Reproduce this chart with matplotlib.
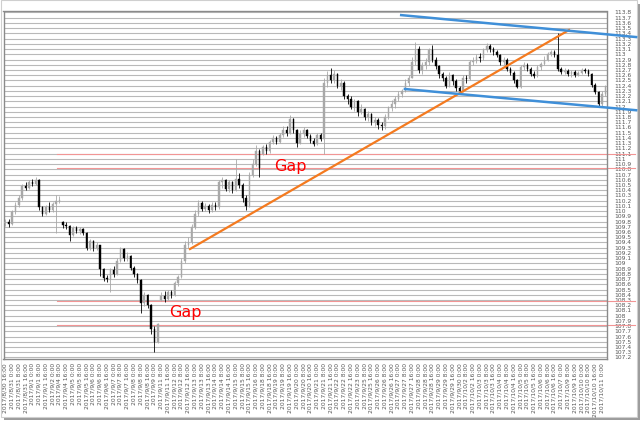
import numpy as np
import matplotlib
matplotlib.use('Agg')
import matplotlib.pyplot as plt
from matplotlib.patches import Rectangle
from datetime import datetime, timedelta

# USD/JPY 4時間足 2017/8/30 16:00 - 2017/10/11
close = [
    109.80, 109.75, 109.98, 110.12, 110.25, 110.48, 110.44, 110.55, 110.52, 110.60,
    110.08, 109.95, 110.08, 110.02, 110.14, 110.20, 110.22, 109.74, 109.72, 109.55,
    109.68, 109.62, 109.66, 109.58, 109.30, 109.42, 109.30, 109.35, 108.90, 108.72,
    108.70, 108.88, 108.80, 109.05, 109.28, 109.10, 109.15, 108.92, 108.80, 108.68,
    108.25, 108.40, 108.20, 107.75, 107.50, 107.84, 108.38, 108.32, 108.45, 108.40,
    108.62, 108.74, 109.05, 109.35, 109.40, 109.70, 109.95, 110.15, 110.05, 110.10,
    110.02, 110.12, 110.08, 110.55, 110.60, 110.42, 110.55, 110.40, 110.62, 110.50,
    110.25, 110.10, 110.70, 110.90, 111.15, 110.83, 111.22, 111.15, 111.32, 111.40,
    111.32, 111.45, 111.55, 111.50, 111.76, 111.55, 111.30, 111.48, 111.55, 111.44,
    111.35, 111.28, 111.45, 111.38, 112.45, 112.60, 112.50, 112.62, 112.40, 112.45,
    112.20, 112.15, 112.00, 112.10, 111.90, 111.95, 111.80, 111.85, 111.70, 111.75,
    111.65, 111.62, 111.80, 111.98, 112.05, 112.15, 112.25, 112.30, 112.45, 112.55,
    112.85, 113.10, 112.70, 112.80, 112.85, 113.08, 112.90, 112.78, 112.62, 112.55,
    112.40, 112.60, 112.48, 112.35, 112.30, 112.55, 112.52, 112.85, 112.88, 112.95,
    112.92, 113.08, 113.15, 113.10, 113.05, 112.98, 112.85, 112.90, 112.72, 112.65,
    112.50, 112.38, 112.75, 112.80, 112.72, 112.62, 112.58, 112.75, 112.82, 112.90,
    113.00, 113.05, 112.98, 112.72, 112.66, 112.68, 112.62, 112.66, 112.60, 112.65,
    112.70, 112.68, 112.62, 112.42, 112.28, 112.05, 112.25, 112.38,
]
high = [
    109.85, 109.85, 110.02, 110.18, 110.30, 110.52, 110.56, 110.60, 110.62, 110.66,
    110.62, 110.10, 110.12, 110.18, 110.18, 110.30, 110.28, 109.82, 109.80, 109.74,
    109.72, 109.72, 109.70, 109.68, 109.60, 109.46, 109.45, 109.40, 109.36, 108.92,
    108.78, 108.92, 108.95, 109.10, 109.32, 109.30, 109.22, 109.16, 108.95, 108.82,
    108.70, 108.46, 108.42, 108.22, 107.80, 107.86, 108.45, 108.48, 108.50, 108.49,
    108.66, 108.78, 109.10, 109.42, 109.50, 109.75, 110.02, 110.22, 110.20, 110.16,
    110.14, 110.18, 110.18, 110.60, 110.66, 110.62, 110.60, 110.58, 111.00, 110.72,
    110.54, 110.30, 110.75, 111.00, 111.26, 111.18, 111.26, 111.28, 111.36, 111.45,
    111.44, 111.50, 111.62, 111.62, 111.84, 111.78, 111.58, 111.55, 111.60, 111.58,
    111.48, 111.40, 111.50, 111.50, 112.55, 112.68, 112.73, 112.70, 112.65, 112.52,
    112.48, 112.25, 112.20, 112.15, 112.12, 112.05, 111.98, 111.92, 111.88, 111.80,
    111.78, 111.70, 111.85, 112.02, 112.12, 112.20, 112.30, 112.34, 112.52, 112.60,
    112.95, 113.24, 113.15, 112.86, 112.92, 113.12, 113.18, 112.95, 112.80, 112.66,
    112.58, 112.66, 112.62, 112.52, 112.40, 112.60, 112.60, 112.90, 112.94, 113.00,
    113.02, 113.12, 113.21, 113.20, 113.14, 113.08, 113.00, 112.94, 112.92, 112.76,
    112.68, 112.52, 112.80, 112.86, 112.84, 112.76, 112.68, 112.80, 112.86, 112.96,
    113.05, 113.08, 113.08, 113.41, 112.76, 112.74, 112.72, 112.70, 112.70, 112.68,
    112.74, 112.74, 112.72, 112.64, 112.46, 112.30, 112.30, 112.42,
]
low = [
    109.72, 109.70, 109.73, 109.95, 110.08, 110.22, 110.40, 110.42, 110.48, 110.50,
    110.02, 109.90, 109.92, 109.98, 109.98, 109.58, 110.15, 109.68, 109.65, 109.42,
    109.52, 109.58, 109.56, 109.54, 109.25, 109.26, 109.24, 109.25, 108.75, 108.66,
    108.64, 108.45, 108.74, 108.78, 109.02, 109.05, 109.04, 108.88, 108.74, 108.62,
    108.05, 108.18, 108.15, 107.65, 107.30, 107.48, 108.28, 108.26, 108.30, 108.34,
    108.38, 108.56, 108.72, 109.00, 109.30, 109.38, 109.66, 109.90, 110.00, 110.00,
    109.96, 109.98, 110.02, 110.05, 110.45, 110.38, 110.36, 110.35, 110.38, 110.45,
    110.18, 110.02, 110.08, 110.65, 110.86, 110.66, 111.08, 111.10, 111.12, 111.28,
    111.28, 111.30, 111.42, 111.44, 111.48, 111.50, 111.23, 111.28, 111.42, 111.40,
    111.30, 111.24, 111.26, 111.34, 111.10, 112.38, 112.45, 112.45, 112.35, 112.32,
    112.15, 112.05, 111.95, 111.92, 111.82, 111.85, 111.75, 111.72, 111.64, 111.62,
    111.58, 111.55, 111.58, 111.76, 111.92, 111.98, 112.10, 112.18, 112.28, 112.40,
    112.55, 112.80, 112.64, 112.62, 112.72, 112.80, 112.85, 112.72, 112.55, 112.48,
    112.36, 112.38, 112.42, 112.30, 112.27, 112.28, 112.46, 112.50, 112.80, 112.84,
    112.86, 112.90, 113.04, 113.05, 112.98, 112.95, 112.80, 112.80, 112.68, 112.60,
    112.45, 112.35, 112.36, 112.70, 112.68, 112.58, 112.55, 112.56, 112.70, 112.80,
    112.88, 112.96, 112.94, 112.68, 112.62, 112.62, 112.58, 112.57, 112.56, 112.58,
    112.62, 112.64, 112.58, 112.38, 112.24, 111.99, 112.02, 112.20,
]
# 窓を開けた足の始値 (それ以外は前の足の終値)
gap_open = {0: 109.78, 17: 109.80, 46: 108.30, 76: 111.10}

gap_levels = [111.10, 110.83, 108.29, 107.83]
# ライン (足の番号, 価格)
orange_line = [(54.5, 109.275), (166.3, 113.465)]
blue_upper = [(116.8, 113.75), (186.1, 113.33)]
blue_lower = [(117.9, 112.336), (186.1, 111.93)]
gap_texts = [(79.3, 110.77, 'Gap'), (48.3, 107.97, 'Gap')]

n = len(close)
opens = [gap_open.get(i, close[i - 1] if i > 0 else close[0]) for i in range(n)]

# 時刻ラベル
times = []
t = datetime(2017, 8, 30, 16)
while len(times) < n:
    wd = t.weekday()
    if (wd < 5 and not (wd == 0 and t.hour < 8)) or (wd == 5 and t.hour <= 4):
        times.append(t)
    t += timedelta(hours=4)
xlabels = ['%d/%d/%d %d:00' % (d.year, d.month, d.day, d.hour) for d in times]

fig = plt.figure(figsize=(6.44, 4.23), dpi=100)
W, H = 644.0, 423.0

# 画面キャプチャ風の枠と影
fig.add_artist(Rectangle((4 / W, 1 - 420 / H), 636 / W, 416 / H, transform=fig.transFigure,
                         facecolor='#9c9c9c', edgecolor='none', zorder=-3))
fig.add_artist(Rectangle((0.5 / W, 1 - 416.5 / H), 636 / W, 416 / H, transform=fig.transFigure,
                         facecolor='white', edgecolor='#cfcfcf', lw=0.8, zorder=-2))

ax = fig.add_axes([3.5 / W, 1 - 359 / H, (607 - 3.5) / W, (359 - 11.5) / H])
ax.set_facecolor('none')

for i in range(n):
    o, c = opens[i], close[i]
    col = '#a8a8a8' if c >= o else '#000000'
    lo = min(low[i], o, c)
    hi = max(high[i], o, c)
    ax.plot([i, i], [lo, hi], color=col, lw=0.6, zorder=3, solid_capstyle='butt')
    ax.add_patch(Rectangle((i - 0.22, min(o, c)), 0.44, max(abs(c - o), 0.01),
                           facecolor=col, edgecolor=col, lw=0.3, zorder=3))

for lv in gap_levels:
    ax.plot([15.3, 185.8], [lv, lv], color='#f29595', lw=0.8, zorder=2, clip_on=False)

ax.plot(*zip(*orange_line), color='#f47a1f', lw=1.6, zorder=4, clip_on=False)
ax.plot(*zip(*blue_upper), color='#3f8fd8', lw=1.8, zorder=4, clip_on=False)
ax.plot(*zip(*blue_lower), color='#3f8fd8', lw=1.8, zorder=4, clip_on=False)

for x, y, s in gap_texts:
    ax.text(x, y, s, color='#ff0000', fontsize=11.5, ha='left', va='baseline', zorder=5)

yticks = np.round(np.arange(107.2, 113.81, 0.1), 1)
ylabels = [('%.1f' % v).rstrip('0').rstrip('.') for v in yticks]
ax.set_yticks(yticks)
ax.set_yticklabels(ylabels)
ax.yaxis.tick_right()
ax.set_ylim(107.171, 113.819)
ax.grid(axis='y', color='#b9b9b9', lw=0.8, zorder=0)

ax.set_xlim(-0.5, n - 0.5)
ax.set_xticks(range(0, n, 2))
ax.set_xticklabels(xlabels[::2], rotation=90, va='top')

ax.tick_params(axis='y', length=0, pad=5, labelsize=4.3, labelcolor='#555555')
ax.tick_params(axis='x', length=0, pad=3, labelsize=4.3, labelcolor='#555555')
for s in ax.spines.values():
    s.set_color('#8a8a8a')
    s.set_linewidth(1.0)

fig.savefig('out.png', dpi=100)
